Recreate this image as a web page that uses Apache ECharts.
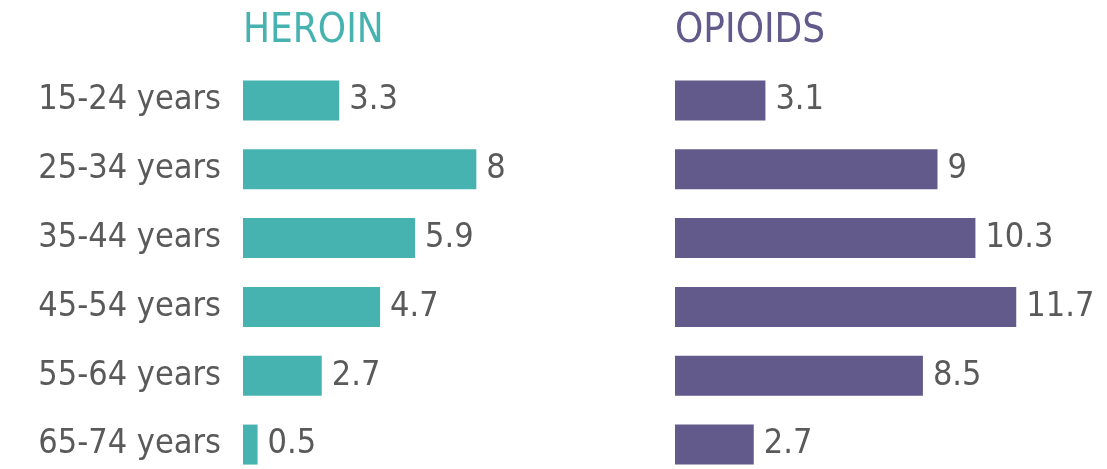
<!DOCTYPE html>
<html>
<head>
<meta charset="utf-8">
<script src="https://cdn.jsdelivr.net/npm/echarts@6/dist/echarts.min.js"></script>
<style>
  html, body { margin: 0; padding: 0; background: #fff; }
  #chart { width: 1107px; height: 469px; }
</style>
</head>
<body>
<div id="chart"></div>
<script>
// age groups, top to bottom
const ageGroups = ['15-24 years', '25-34 years', '35-44 years', '45-54 years', '55-64 years', '65-74 years']
const heroin = [3.3, 8, 5.9, 4.7, 2.7, 0.5]
const opioids = [3.1, 9, 10.3, 11.7, 8.5, 2.7]
const panelTitles = ['HEROIN', 'OPIOIDS']

const tealColor = '#47b3b1'
const purpleColor = '#625a8a'
const textColor = '#5a5a5a'
const font = "'Liberation Sans Narrow', 'DejaVu Sans Condensed', 'Noto Sans', sans-serif"

const chart = echarts.init(document.getElementById('chart'))

const valueLabel = {
  show: true,
  position: 'right',
  distance: 10,
  color: textColor,
  fontSize: 34,
  fontFamily: font
}

chart.setOption({
  animation: false,
  title: [
    {
      text: panelTitles[0],
      left: 238,
      top: 7,
      textStyle: { color: tealColor, fontSize: 40, fontWeight: 'normal', fontFamily: font }
    },
    {
      text: panelTitles[1],
      left: 670,
      top: 7,
      textStyle: { color: purpleColor, fontSize: 40, fontWeight: 'normal', fontFamily: font }
    }
  ],
  // the grids run past the bottom edge on purpose, so no auto-fitting
  grid: [
    { left: 243, top: 66, width: 350, height: 413, outerBoundsMode: 'none', containLabel: false },
    { left: 675, top: 66, width: 350, height: 413, outerBoundsMode: 'none', containLabel: false }
  ],
  xAxis: [
    { gridIndex: 0, type: 'value', min: 0, max: 12, show: false },
    { gridIndex: 1, type: 'value', min: 0, max: 12, show: false }
  ],
  yAxis: [
    {
      gridIndex: 0,
      type: 'category',
      data: ageGroups,
      inverse: true,
      axisLine: { show: false },
      axisTick: { show: false },
      axisLabel: { margin: 22, color: textColor, fontSize: 34, fontFamily: font }
    },
    {
      gridIndex: 1,
      type: 'category',
      data: ageGroups,
      inverse: true,
      show: false
    }
  ],
  series: [
    {
      name: 'Heroin',
      type: 'bar',
      xAxisIndex: 0,
      yAxisIndex: 0,
      data: heroin,
      barWidth: 40,
      itemStyle: { color: tealColor },
      label: valueLabel
    },
    {
      name: 'Opioids',
      type: 'bar',
      xAxisIndex: 1,
      yAxisIndex: 1,
      data: opioids,
      barWidth: 40,
      itemStyle: { color: purpleColor },
      label: valueLabel
    }
  ]
})
</script>
</body>
</html>
